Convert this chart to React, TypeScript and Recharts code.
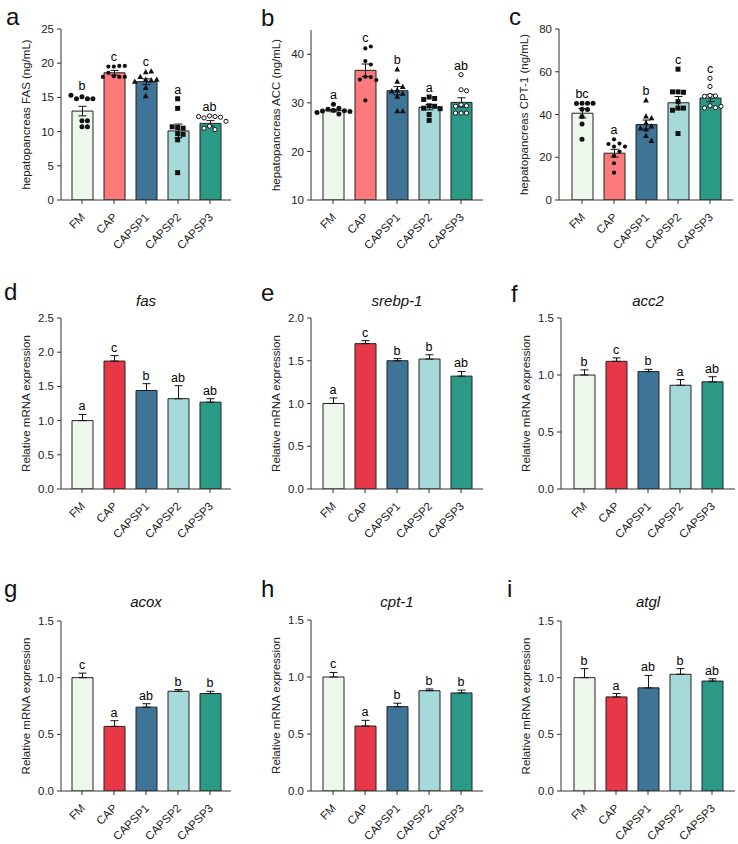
import { ComposedChart, Bar, Cell, ErrorBar, Scatter, XAxis, YAxis } from 'recharts'

const GROUPS = ['FM', 'CAP', 'CAPSP1', 'CAPSP2', 'CAPSP3']

const ELISA_COLORS = ['#eef7ec', '#fc7a7a', '#3f7398', '#a6dada', '#2a9a87']
const QPCR_COLORS = ['#eef7ec', '#e63847', '#3f7398', '#a6dada', '#2a9a87']
// marker per diet group for the individual samples
const MARKERS = ['dot', 'dot', 'triangle', 'square', 'ring']

// hepatopancreas enzyme content (ng/mL), mean ± SEM, n = 9
const FAS_MEAN = [13.0, 18.6, 17.3, 10.1, 11.2]
const FAS_SEM = [0.7, 0.35, 0.4, 1.0, 0.4]
const FAS_LETTERS = ['b', 'c', 'c', 'a', 'ab']
const FAS_POINTS = [
  [15.1, 14.8, 14.8, 14.8, 15.3, 11.6, 11.6, 10.7, 10.7],
  [19.5, 19.6, 19.5, 19.6, 18.1, 18.0, 18.6, 18.0, 18.0],
  [18.7, 18.8, 18.0, 17.6, 17.5, 17.6, 17.3, 16.4, 15.2],
  [14.8, 13.4, 10.6, 10.5, 10.7, 9.7, 9.6, 8.8, 4.0],
  [12.3, 12.2, 12.0, 12.1, 12.2, 11.5, 10.8, 10.3, 10.5],
]

const ACC_MEAN = [28.4, 36.7, 32.5, 29.1, 30.1]
const ACC_SEM = [0.25, 1.3, 0.85, 0.55, 0.95]
const ACC_LETTERS = ['a', 'c', 'b', 'a', 'ab']
const ACC_POINTS = [
  [29.7, 28.9, 28.7, 28.5, 28.4, 28.3, 28.2, 28.0, 27.7],
  [41.2, 41.6, 38.6, 37.9, 35.4, 35.3, 34.8, 34.7, 30.5],
  [36.9, 34.4, 33.3, 32.6, 32.4, 31.9, 31.3, 28.3, 28.3],
  [31.2, 30.9, 30.7, 29.4, 29.3, 28.9, 28.8, 27.6, 26.4],
  [35.8, 32.7, 32.5, 29.6, 29.4, 29.3, 27.9, 27.9, 27.9],
]

const CPT_MEAN = [40.6, 21.9, 35.3, 45.5, 47.7]
const CPT_SEM = [2.2, 1.8, 2.1, 2.9, 1.7]
const CPT_LETTERS = ['bc', 'a', 'b', 'c', 'c']
const CPT_POINTS = [
  [45.3, 45.3, 45.2, 45.3, 42.5, 42.3, 39.1, 35.5, 28.4],
  [28.4, 26.4, 26.2, 25.0, 25.0, 22.7, 20.6, 17.2, 12.8],
  [46.7, 39.1, 38.3, 36.0, 34.5, 33.5, 33.1, 30.0, 27.7],
  [61.2, 50.6, 50.4, 50.6, 46.0, 43.0, 43.0, 42.0, 31.1],
  [56.9, 53.1, 48.9, 48.7, 48.5, 44.1, 43.2, 43.0, 43.8],
]

// relative mRNA expression, mean + SEM
const FAS_MRNA = [1.0, 1.87, 1.44, 1.32, 1.27]
const FAS_MRNA_SEM = [0.09, 0.08, 0.1, 0.19, 0.05]
const FAS_MRNA_LETTERS = ['a', 'c', 'b', 'ab', 'ab']

const SREBP1_MRNA = [1.0, 1.7, 1.5, 1.52, 1.32]
const SREBP1_MRNA_SEM = [0.065, 0.035, 0.025, 0.05, 0.055]
const SREBP1_MRNA_LETTERS = ['a', 'c', 'b', 'b', 'ab']

const ACC2_MRNA = [1.0, 1.12, 1.03, 0.91, 0.94]
const ACC2_MRNA_SEM = [0.045, 0.03, 0.02, 0.05, 0.045]
const ACC2_MRNA_LETTERS = ['b', 'c', 'b', 'a', 'ab']

const ACOX_MRNA = [1.0, 0.57, 0.74, 0.88, 0.86]
const ACOX_MRNA_SEM = [0.04, 0.05, 0.03, 0.015, 0.02]
const ACOX_MRNA_LETTERS = ['c', 'a', 'ab', 'b', 'b']

const CPT1_MRNA = [1.0, 0.57, 0.74, 0.88, 0.86]
const CPT1_MRNA_SEM = [0.04, 0.05, 0.03, 0.015, 0.025]
const CPT1_MRNA_LETTERS = ['c', 'a', 'b', 'b', 'b']

const ATGL_MRNA = [1.0, 0.83, 0.91, 1.03, 0.97]
const ATGL_MRNA_SEM = [0.08, 0.03, 0.11, 0.05, 0.02]
const ATGL_MRNA_LETTERS = ['b', 'a', 'ab', 'b', 'ab']

const MRNA_LABEL = 'Relative mRNA expression'
const TICKS_15 = [0, 0.5, 1.0, 1.5]

type Panel = {
  tag: string
  title?: string
  ylabel: string
  mean: number[]
  sem: number[]
  letters: string[]
  points?: number[][]
  domain: [number, number]
  ticks: number[]
  decimals: number
  colors: string[]
}

const PANELS: Panel[] = [
  { tag: 'a', ylabel: 'hepatopancreas FAS (ng/mL)', mean: FAS_MEAN, sem: FAS_SEM, letters: FAS_LETTERS, points: FAS_POINTS, domain: [0, 25], ticks: [0, 5, 10, 15, 20, 25], decimals: 0, colors: ELISA_COLORS },
  { tag: 'b', ylabel: 'hepatopancreas ACC (ng/mL)', mean: ACC_MEAN, sem: ACC_SEM, letters: ACC_LETTERS, points: ACC_POINTS, domain: [10, 45], ticks: [10, 20, 30, 40], decimals: 0, colors: ELISA_COLORS },
  { tag: 'c', ylabel: 'hepatopancreas CPT-1 (ng/mL)', mean: CPT_MEAN, sem: CPT_SEM, letters: CPT_LETTERS, points: CPT_POINTS, domain: [0, 80], ticks: [0, 20, 40, 60, 80], decimals: 0, colors: ELISA_COLORS },
  { tag: 'd', title: 'fas', ylabel: MRNA_LABEL, mean: FAS_MRNA, sem: FAS_MRNA_SEM, letters: FAS_MRNA_LETTERS, domain: [0, 2.5], ticks: [0, 0.5, 1.0, 1.5, 2.0, 2.5], decimals: 1, colors: QPCR_COLORS },
  { tag: 'e', title: 'srebp-1', ylabel: MRNA_LABEL, mean: SREBP1_MRNA, sem: SREBP1_MRNA_SEM, letters: SREBP1_MRNA_LETTERS, domain: [0, 2.0], ticks: [0, 0.5, 1.0, 1.5, 2.0], decimals: 1, colors: QPCR_COLORS },
  { tag: 'f', title: 'acc2', ylabel: MRNA_LABEL, mean: ACC2_MRNA, sem: ACC2_MRNA_SEM, letters: ACC2_MRNA_LETTERS, domain: [0, 1.5], ticks: TICKS_15, decimals: 1, colors: QPCR_COLORS },
  { tag: 'g', title: 'acox', ylabel: MRNA_LABEL, mean: ACOX_MRNA, sem: ACOX_MRNA_SEM, letters: ACOX_MRNA_LETTERS, domain: [0, 1.5], ticks: TICKS_15, decimals: 1, colors: QPCR_COLORS },
  { tag: 'h', title: 'cpt-1', ylabel: MRNA_LABEL, mean: CPT1_MRNA, sem: CPT1_MRNA_SEM, letters: CPT1_MRNA_LETTERS, domain: [0, 1.5], ticks: TICKS_15, decimals: 1, colors: QPCR_COLORS },
  { tag: 'i', title: 'atgl', ylabel: MRNA_LABEL, mean: ATGL_MRNA, sem: ATGL_MRNA_SEM, letters: ATGL_MRNA_LETTERS, domain: [0, 1.5], ticks: TICKS_15, decimals: 1, colors: QPCR_COLORS },
]

// where each panel sits on the page: y-axis x, plot top/bottom, category padding,
// panel letter origin and the baseline of the gene title
const LAYOUT: Record<string, { axisX: number; top: number; bottom: number; pad: number; tagX: number; tagY: number; titleY?: number }> = {
  a: { axisX: 61, top: 29, bottom: 200, pad: 5, tagX: 6, tagY: 25 },
  b: { axisX: 311, top: 30, bottom: 200, pad: 6, tagX: 261, tagY: 26 },
  c: { axisX: 559, top: 29, bottom: 200, pad: 7, tagX: 509, tagY: 25 },
  d: { axisX: 61, top: 318, bottom: 489, pad: 5, tagX: 4, tagY: 300, titleY: 306 },
  e: { axisX: 311, top: 318, bottom: 489, pad: 6, tagX: 261, tagY: 301, titleY: 306 },
  f: { axisX: 561, top: 318, bottom: 489, pad: 7, tagX: 511, tagY: 302, titleY: 306 },
  g: { axisX: 61, top: 621, bottom: 791, pad: 5, tagX: 4, tagY: 597, titleY: 607 },
  h: { axisX: 311, top: 620, bottom: 791, pad: 6, tagX: 261, tagY: 597, titleY: 607 },
  i: { axisX: 561, top: 621, bottom: 791, pad: 7, tagX: 507, tagY: 597, titleY: 607 },
}

const BAND = 32
const AXIS_W = 61
const FONT = '"Liberation Sans", Arial, sans-serif'
const INK = '#222'

// spread samples sideways so markers don't overlap (pixel offsets)
function swarm(values: number[], pxPerUnit: number) {
  const placed: [number, number][] = []
  return values.map(v => {
    const y = v * pxPerUnit
    let dx = 0
    for (let k = 0; k < 14; k++) {
      const t = k === 0 ? 0 : (k % 2 ? 1 : -1) * Math.ceil(k / 2) * 5.5
      if (placed.every(([px, py]) => Math.hypot(px - t, py - y) >= 5.5)) { dx = t; break }
    }
    placed.push([dx, y])
    return dx
  })
}

function Marker(props: any) {
  const { cx, cy, payload } = props
  const kind = MARKERS[payload.group]
  if (kind === 'triangle') {
    return <polygon points={`${cx},${cy - 3.2} ${cx - 2.9},${cy + 2.2} ${cx + 2.9},${cy + 2.2}`} fill="#111" />
  }
  if (kind === 'square') return <rect x={cx - 2.5} y={cy - 2.5} width={5} height={5} fill="#111" />
  if (kind === 'ring') return <circle cx={cx} cy={cy} r={2.1} fill="#fff" stroke="#111" strokeWidth={1} />
  return <circle cx={cx} cy={cy} r={payload.group === 1 ? 2.1 : 2.5} fill="#111" />
}

function GroupTick({ x, y, payload }: any) {
  return (
    <g transform={`translate(${x + 1},${y + 9})`}>
      <text textAnchor="end" dy="0.35em" transform="rotate(-45)" fontSize={11.5} style={{ fill: INK }}>
        {payload.value}
      </text>
    </g>
  )
}

// significance letters sit a few pixels above the highest mark of each group
function makeLetter(gap: number) {
  return (q: any) => (
    <g transform={`translate(${q.cx},${q.cy - gap})`}>
      <text textAnchor="middle" fontSize={12.5} fontFamily={FONT} fill="#000" stroke="none">
        <tspan>{q.payload.text}</tspan>
      </text>
    </g>
  )
}

function PanelChart({ p }: { p: Panel }) {
  const L = LAYOUT[p.tag]
  const plotW = BAND * GROUPS.length + 2 * L.pad
  const plotH = L.bottom - L.top
  const pxPerUnit = plotH / (p.domain[1] - p.domain[0])
  const rows = GROUPS.map((g, i) => ({
    name: g,
    mean: p.mean[i],
    err: p.points ? p.sem[i] : [0, p.sem[i]],
  }))
  const dots = p.points
    ? p.points.flatMap((vals, i) => swarm(vals, pxPerUnit).map((dx, k) => ({ x: i + dx / BAND, y: vals[k], group: i })))
    : []
  const tags = GROUPS.map((_, i) => ({
    x: i,
    y: p.points ? Math.max(...p.points[i], p.mean[i] + p.sem[i]) : p.mean[i] + p.sem[i],
    text: p.letters[i],
  }))

  return (
    <div style={{ position: 'absolute', left: L.axisX - AXIS_W, top: L.top - 10 }}>
      <ComposedChart
        width={AXIS_W + plotW + 6}
        height={10 + plotH + 62}
        data={rows}
        margin={{ top: 10, right: 6, bottom: 0, left: 0 }}
      >
        <XAxis
          dataKey="name"
          height={62}
          interval={0}
          padding={{ left: L.pad, right: L.pad }}
          tick={<GroupTick />}
          tickSize={4}
          tickMargin={2}
          axisLine={{ stroke: '#333' }}
          tickLine={{ stroke: '#333' }}
        />
        <XAxis xAxisId="n" type="number" dataKey="x" domain={[-0.5, 4.5]} padding={{ left: L.pad, right: L.pad }} hide />
        <YAxis
          width={AXIS_W}
          domain={p.domain}
          ticks={p.ticks}
          allowDataOverflow
          tickFormatter={(v: number) => v.toFixed(p.decimals)}
          tick={{ fontSize: 11.5, fill: INK }}
          tickSize={4}
          tickMargin={3}
          axisLine={{ stroke: '#333' }}
          tickLine={{ stroke: '#333' }}
          label={{ value: p.ylabel, angle: -90, position: 'insideLeft', offset: 26, style: { textAnchor: 'middle', fontSize: 11.5, fill: INK } }}
        />
        <Bar dataKey="mean" barSize={21} stroke="#222" strokeWidth={1} isAnimationActive={false}>
          {GROUPS.map((g, i) => <Cell key={g} fill={p.colors[i]} />)}
          <ErrorBar dataKey="err" width={4} stroke="#111" strokeWidth={1} direction="y" />
        </Bar>
        {dots.length > 0 && (
          <Scatter xAxisId="n" data={dots} dataKey="y" shape={Marker} isAnimationActive={false} />
        )}
        <Scatter xAxisId="n" data={tags} dataKey="y" fill="#000" shape={makeLetter(p.points ? 5 : 4)} isAnimationActive={false} />
      </ComposedChart>
    </div>
  )
}

export default function App() {
  return (
    <div style={{ position: 'absolute', left: 0, top: 0, width: 738, height: 844, background: '#fff', fontFamily: FONT }}>
      {PANELS.map(p => <PanelChart key={p.tag} p={p} />)}
      <svg width={738} height={844} style={{ position: 'absolute', left: 0, top: 0, pointerEvents: 'none' }}>
        {PANELS.map(p => {
          const L = LAYOUT[p.tag]
          const cx = L.axisX + (BAND * GROUPS.length + 2 * L.pad) / 2
          return (
            <g key={p.tag} fontFamily={FONT} fill="#111">
              <text x={L.tagX} y={L.tagY} fontSize={24}>{p.tag}</text>
              {p.title && (
                <text x={cx} y={L.titleY} fontSize={15} fontStyle="italic" textAnchor="middle">{p.title}</text>
              )}
            </g>
          )
        })}
      </svg>
    </div>
  )
}
